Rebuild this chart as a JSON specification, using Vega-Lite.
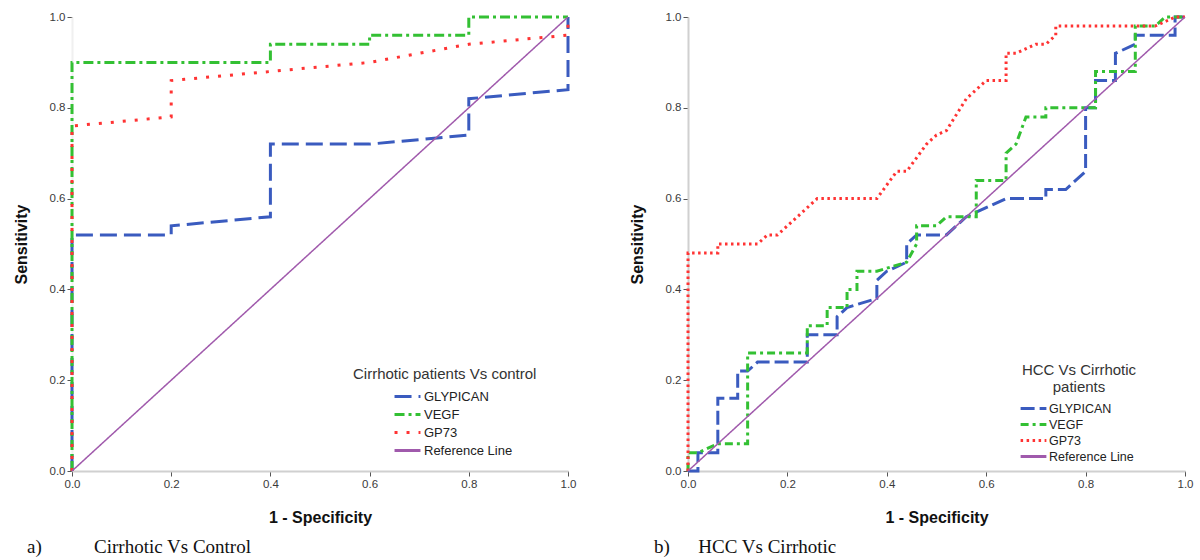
{
  "$schema": "https://vega.github.io/schema/vega-lite/v6.json",
  "padding": {"left": 13, "top": 11, "right": 2, "bottom": 2},
  "spacing": 53,
  "datasets": {
    "a": [
      {"s": "GLYPICAN", "i": 0, "x": 0, "y": 0},
      {"s": "GLYPICAN", "i": 1, "x": 0, "y": 0.52},
      {"s": "GLYPICAN", "i": 2, "x": 0.2, "y": 0.52},
      {"s": "GLYPICAN", "i": 3, "x": 0.2, "y": 0.54},
      {"s": "GLYPICAN", "i": 4, "x": 0.4, "y": 0.56},
      {"s": "GLYPICAN", "i": 5, "x": 0.4, "y": 0.72},
      {"s": "GLYPICAN", "i": 6, "x": 0.6, "y": 0.72},
      {"s": "GLYPICAN", "i": 7, "x": 0.8, "y": 0.74},
      {"s": "GLYPICAN", "i": 8, "x": 0.8, "y": 0.82},
      {"s": "GLYPICAN", "i": 9, "x": 1, "y": 0.84},
      {"s": "GLYPICAN", "i": 10, "x": 1, "y": 1},
      {"s": "VEGF", "i": 0, "x": 0, "y": 0},
      {"s": "VEGF", "i": 1, "x": 0, "y": 0.9},
      {"s": "VEGF", "i": 2, "x": 0.4, "y": 0.9},
      {"s": "VEGF", "i": 3, "x": 0.4, "y": 0.94},
      {"s": "VEGF", "i": 4, "x": 0.6, "y": 0.94},
      {"s": "VEGF", "i": 5, "x": 0.6, "y": 0.96},
      {"s": "VEGF", "i": 6, "x": 0.8, "y": 0.96},
      {"s": "VEGF", "i": 7, "x": 0.8, "y": 1},
      {"s": "VEGF", "i": 8, "x": 1, "y": 1},
      {"s": "GP73", "i": 0, "x": 0, "y": 0},
      {"s": "GP73", "i": 1, "x": 0, "y": 0.76},
      {"s": "GP73", "i": 2, "x": 0.2, "y": 0.78},
      {"s": "GP73", "i": 3, "x": 0.2, "y": 0.86},
      {"s": "GP73", "i": 4, "x": 0.4, "y": 0.88},
      {"s": "GP73", "i": 5, "x": 0.6, "y": 0.9},
      {"s": "GP73", "i": 6, "x": 0.8, "y": 0.94},
      {"s": "GP73", "i": 7, "x": 1, "y": 0.96},
      {"s": "GP73", "i": 8, "x": 1, "y": 1},
      {"s": "Reference Line", "i": 0, "x": 0, "y": 0},
      {"s": "Reference Line", "i": 1, "x": 1, "y": 1}
    ],
    "b": [
      {"s": "GLYPICAN", "i": 0, "x": 0, "y": 0},
      {"s": "GLYPICAN", "i": 1, "x": 0.02, "y": 0},
      {"s": "GLYPICAN", "i": 2, "x": 0.02, "y": 0.04},
      {"s": "GLYPICAN", "i": 3, "x": 0.06, "y": 0.04},
      {"s": "GLYPICAN", "i": 4, "x": 0.06, "y": 0.16},
      {"s": "GLYPICAN", "i": 5, "x": 0.1, "y": 0.16},
      {"s": "GLYPICAN", "i": 6, "x": 0.1, "y": 0.22},
      {"s": "GLYPICAN", "i": 7, "x": 0.12, "y": 0.22},
      {"s": "GLYPICAN", "i": 8, "x": 0.14, "y": 0.24},
      {"s": "GLYPICAN", "i": 9, "x": 0.24, "y": 0.24},
      {"s": "GLYPICAN", "i": 10, "x": 0.24, "y": 0.3},
      {"s": "GLYPICAN", "i": 11, "x": 0.3, "y": 0.3},
      {"s": "GLYPICAN", "i": 12, "x": 0.3, "y": 0.34},
      {"s": "GLYPICAN", "i": 13, "x": 0.32, "y": 0.36},
      {"s": "GLYPICAN", "i": 14, "x": 0.38, "y": 0.38},
      {"s": "GLYPICAN", "i": 15, "x": 0.38, "y": 0.42},
      {"s": "GLYPICAN", "i": 16, "x": 0.4, "y": 0.44},
      {"s": "GLYPICAN", "i": 17, "x": 0.44, "y": 0.46},
      {"s": "GLYPICAN", "i": 18, "x": 0.44, "y": 0.5},
      {"s": "GLYPICAN", "i": 19, "x": 0.46, "y": 0.52},
      {"s": "GLYPICAN", "i": 20, "x": 0.52, "y": 0.52},
      {"s": "GLYPICAN", "i": 21, "x": 0.56, "y": 0.56},
      {"s": "GLYPICAN", "i": 22, "x": 0.58, "y": 0.57},
      {"s": "GLYPICAN", "i": 23, "x": 0.64, "y": 0.6},
      {"s": "GLYPICAN", "i": 24, "x": 0.72, "y": 0.6},
      {"s": "GLYPICAN", "i": 25, "x": 0.72, "y": 0.62},
      {"s": "GLYPICAN", "i": 26, "x": 0.76, "y": 0.62},
      {"s": "GLYPICAN", "i": 27, "x": 0.8, "y": 0.66},
      {"s": "GLYPICAN", "i": 28, "x": 0.8, "y": 0.8},
      {"s": "GLYPICAN", "i": 29, "x": 0.82, "y": 0.8},
      {"s": "GLYPICAN", "i": 30, "x": 0.82, "y": 0.86},
      {"s": "GLYPICAN", "i": 31, "x": 0.86, "y": 0.86},
      {"s": "GLYPICAN", "i": 32, "x": 0.86, "y": 0.92},
      {"s": "GLYPICAN", "i": 33, "x": 0.9, "y": 0.94},
      {"s": "GLYPICAN", "i": 34, "x": 0.9, "y": 0.96},
      {"s": "GLYPICAN", "i": 35, "x": 0.98, "y": 0.96},
      {"s": "GLYPICAN", "i": 36, "x": 0.98, "y": 1},
      {"s": "GLYPICAN", "i": 37, "x": 1, "y": 1},
      {"s": "VEGF", "i": 0, "x": 0, "y": 0},
      {"s": "VEGF", "i": 1, "x": 0, "y": 0.04},
      {"s": "VEGF", "i": 2, "x": 0.02, "y": 0.04},
      {"s": "VEGF", "i": 3, "x": 0.06, "y": 0.06},
      {"s": "VEGF", "i": 4, "x": 0.12, "y": 0.06},
      {"s": "VEGF", "i": 5, "x": 0.12, "y": 0.26},
      {"s": "VEGF", "i": 6, "x": 0.24, "y": 0.26},
      {"s": "VEGF", "i": 7, "x": 0.24, "y": 0.32},
      {"s": "VEGF", "i": 8, "x": 0.28, "y": 0.32},
      {"s": "VEGF", "i": 9, "x": 0.28, "y": 0.36},
      {"s": "VEGF", "i": 10, "x": 0.32, "y": 0.36},
      {"s": "VEGF", "i": 11, "x": 0.32, "y": 0.4},
      {"s": "VEGF", "i": 12, "x": 0.34, "y": 0.4},
      {"s": "VEGF", "i": 13, "x": 0.34, "y": 0.44},
      {"s": "VEGF", "i": 14, "x": 0.38, "y": 0.44},
      {"s": "VEGF", "i": 15, "x": 0.44, "y": 0.46},
      {"s": "VEGF", "i": 16, "x": 0.46, "y": 0.5},
      {"s": "VEGF", "i": 17, "x": 0.46, "y": 0.54},
      {"s": "VEGF", "i": 18, "x": 0.5, "y": 0.54},
      {"s": "VEGF", "i": 19, "x": 0.52, "y": 0.56},
      {"s": "VEGF", "i": 20, "x": 0.58, "y": 0.56},
      {"s": "VEGF", "i": 21, "x": 0.58, "y": 0.64},
      {"s": "VEGF", "i": 22, "x": 0.64, "y": 0.64},
      {"s": "VEGF", "i": 23, "x": 0.64, "y": 0.7},
      {"s": "VEGF", "i": 24, "x": 0.66, "y": 0.72},
      {"s": "VEGF", "i": 25, "x": 0.68, "y": 0.78},
      {"s": "VEGF", "i": 26, "x": 0.72, "y": 0.78},
      {"s": "VEGF", "i": 27, "x": 0.72, "y": 0.8},
      {"s": "VEGF", "i": 28, "x": 0.82, "y": 0.8},
      {"s": "VEGF", "i": 29, "x": 0.82, "y": 0.88},
      {"s": "VEGF", "i": 30, "x": 0.9, "y": 0.88},
      {"s": "VEGF", "i": 31, "x": 0.9, "y": 0.98},
      {"s": "VEGF", "i": 32, "x": 0.94, "y": 0.98},
      {"s": "VEGF", "i": 33, "x": 0.96, "y": 1},
      {"s": "VEGF", "i": 34, "x": 1, "y": 1},
      {"s": "GP73", "i": 0, "x": 0, "y": 0},
      {"s": "GP73", "i": 1, "x": 0, "y": 0.48},
      {"s": "GP73", "i": 2, "x": 0.06, "y": 0.48},
      {"s": "GP73", "i": 3, "x": 0.06, "y": 0.5},
      {"s": "GP73", "i": 4, "x": 0.14, "y": 0.5},
      {"s": "GP73", "i": 5, "x": 0.16, "y": 0.52},
      {"s": "GP73", "i": 6, "x": 0.18, "y": 0.52},
      {"s": "GP73", "i": 7, "x": 0.2, "y": 0.54},
      {"s": "GP73", "i": 8, "x": 0.26, "y": 0.6},
      {"s": "GP73", "i": 9, "x": 0.38, "y": 0.6},
      {"s": "GP73", "i": 10, "x": 0.42, "y": 0.66},
      {"s": "GP73", "i": 11, "x": 0.44, "y": 0.66},
      {"s": "GP73", "i": 12, "x": 0.48, "y": 0.72},
      {"s": "GP73", "i": 13, "x": 0.5, "y": 0.74},
      {"s": "GP73", "i": 14, "x": 0.52, "y": 0.75},
      {"s": "GP73", "i": 15, "x": 0.56, "y": 0.82},
      {"s": "GP73", "i": 16, "x": 0.58, "y": 0.84},
      {"s": "GP73", "i": 17, "x": 0.6, "y": 0.86},
      {"s": "GP73", "i": 18, "x": 0.64, "y": 0.86},
      {"s": "GP73", "i": 19, "x": 0.64, "y": 0.92},
      {"s": "GP73", "i": 20, "x": 0.66, "y": 0.92},
      {"s": "GP73", "i": 21, "x": 0.7, "y": 0.94},
      {"s": "GP73", "i": 22, "x": 0.72, "y": 0.94},
      {"s": "GP73", "i": 23, "x": 0.74, "y": 0.96},
      {"s": "GP73", "i": 24, "x": 0.74, "y": 0.98},
      {"s": "GP73", "i": 25, "x": 0.94, "y": 0.98},
      {"s": "GP73", "i": 26, "x": 0.98, "y": 1},
      {"s": "GP73", "i": 27, "x": 1, "y": 1},
      {"s": "Reference Line", "i": 0, "x": 0, "y": 0},
      {"s": "Reference Line", "i": 1, "x": 1, "y": 1}
    ]
  },
  "hconcat": [
    {
      "width": 496,
      "height": 454,
      "data": {"name": "a"},
      "title": {"text": "a)\u00a0\u00a0\u00a0\u00a0\u00a0\u00a0\u00a0\u00a0\u00a0\u00a0\u00a0Cirrhotic Vs Control", "dx": 14},
      "mark": {"type": "line", "strokeCap": "butt"},
      "encoding": {
        "x": {"field": "x", "type": "quantitative", "scale": {"domain": [0, 1], "nice": false},
              "axis": {"title": "1 - Specificity", "values": [0, 0.2, 0.4, 0.6, 0.8, 1], "format": ".1f"}},
        "y": {"field": "y", "type": "quantitative", "scale": {"domain": [0, 1], "nice": false},
              "axis": {"title": "Sensitivity", "values": [0, 0.2, 0.4, 0.6, 0.8, 1], "format": ".1f", "domainColor": "#f0f0f0"}},
        "color": {"field": "s", "type": "nominal",
                  "scale": {"domain": ["GLYPICAN", "VEGF", "GP73", "Reference Line"], "range": ["#3a5bbf", "#33c033", "#ff3333", "#a05aac"]},
                  "legend": {"title": "Cirrhotic patients Vs control", "legendX": 281, "legendY": 350, "symbolOffset": 44}},
        "strokeDash": {"field": "s", "type": "nominal",
                       "scale": {"domain": ["GLYPICAN", "VEGF", "GP73", "Reference Line"], "range": [[17, 7], [10, 4, 3, 4], [3, 9], [1, 0]]},
                       "legend": {"title": "Cirrhotic patients Vs control", "legendX": 281, "legendY": 350, "symbolOffset": 44}},
        "strokeWidth": {"condition": {"test": "datum.s === 'Reference Line'", "value": 1.5}, "value": 3},
        "order": {"field": "i", "type": "quantitative"}
      }
    },
    {
      "width": 497,
      "height": 454,
      "data": {"name": "b"},
      "title": {"text": "b)\u00a0\u00a0\u00a0\u00a0\u00a0\u00a0HCC Vs Cirrhotic", "dx": 25},
      "mark": {"type": "line", "strokeCap": "butt"},
      "encoding": {
        "x": {"field": "x", "type": "quantitative", "scale": {"domain": [0, 1], "nice": false},
              "axis": {"title": "1 - Specificity", "values": [0, 0.2, 0.4, 0.6, 0.8, 1], "format": ".1f"}},
        "y": {"field": "y", "type": "quantitative", "scale": {"domain": [0, 1], "nice": false},
              "axis": {"title": "Sensitivity", "values": [0, 0.2, 0.4, 0.6, 0.8, 1], "format": ".1f"}},
        "color": {"field": "s", "type": "nominal",
                  "scale": {"domain": ["GLYPICAN", "VEGF", "GP73", "Reference Line"], "range": ["#3a5bbf", "#33c033", "#ff3333", "#a05aac"]},
                  "legend": {"title": ["HCC Vs Cirrhotic", "patients"], "legendX": 334, "legendY": 346, "titleAlign": "center", "titleAnchor": "middle",
                             "symbolType": "M-1.7,0H1.7", "symbolSize": 230, "labelFontSize": 12.5}},
        "strokeDash": {"field": "s", "type": "nominal",
                       "scale": {"domain": ["GLYPICAN", "VEGF", "GP73", "Reference Line"], "range": [[14, 5], [8, 4, 3, 4], [2.5, 3.5], [1, 0]]},
                       "legend": {"title": ["HCC Vs Cirrhotic", "patients"], "legendX": 334, "legendY": 346, "titleAlign": "center", "titleAnchor": "middle",
                                  "symbolType": "M-1.7,0H1.7", "symbolSize": 230, "labelFontSize": 12.5}},
        "strokeWidth": {"condition": {"test": "datum.s === 'Reference Line'", "value": 1.5}, "value": 3},
        "order": {"field": "i", "type": "quantitative"}
      }
    }
  ],
  "resolve": {
    "scale": {"color": "independent", "strokeDash": "independent"},
    "legend": {"color": "independent", "strokeDash": "independent"}
  },
  "config": {
    "view": {"stroke": null},
    "font": "Liberation Sans",
    "axis": {
      "labelFont": "Liberation Sans", "labelFontSize": 11.5, "labelColor": "#3a3a3a", "labelFlush": false,
      "titleFont": "Liberation Sans", "titleFontSize": 16, "titleFontWeight": "bold", "titleColor": "#111",
      "domainColor": "#d0d0d0", "domainWidth": 2, "tickColor": "#555", "tickSize": 5, "grid": false, "labelPadding": 2
    },
    "axisY": {"titlePadding": 20},
    "axisX": {"titlePadding": 20},
    "title": {"orient": "bottom", "anchor": "start", "font": "Liberation Serif", "fontSize": 19, "fontWeight": "normal", "color": "#111", "offset": 12},
    "legend": {
      "orient": "none", "symbolType": "M-1.45,0H1.45", "symbolStrokeWidth": 3, "symbolSize": 320,
      "labelFont": "Liberation Sans", "labelFontSize": 13, "labelColor": "#222", "labelOffset": 6,
      "titleFont": "Liberation Sans", "titleFontSize": 15, "titleFontWeight": "normal", "titleColor": "#333",
      "titlePadding": 4, "titleLimit": 400, "rowPadding": 0
    }
  }
}
